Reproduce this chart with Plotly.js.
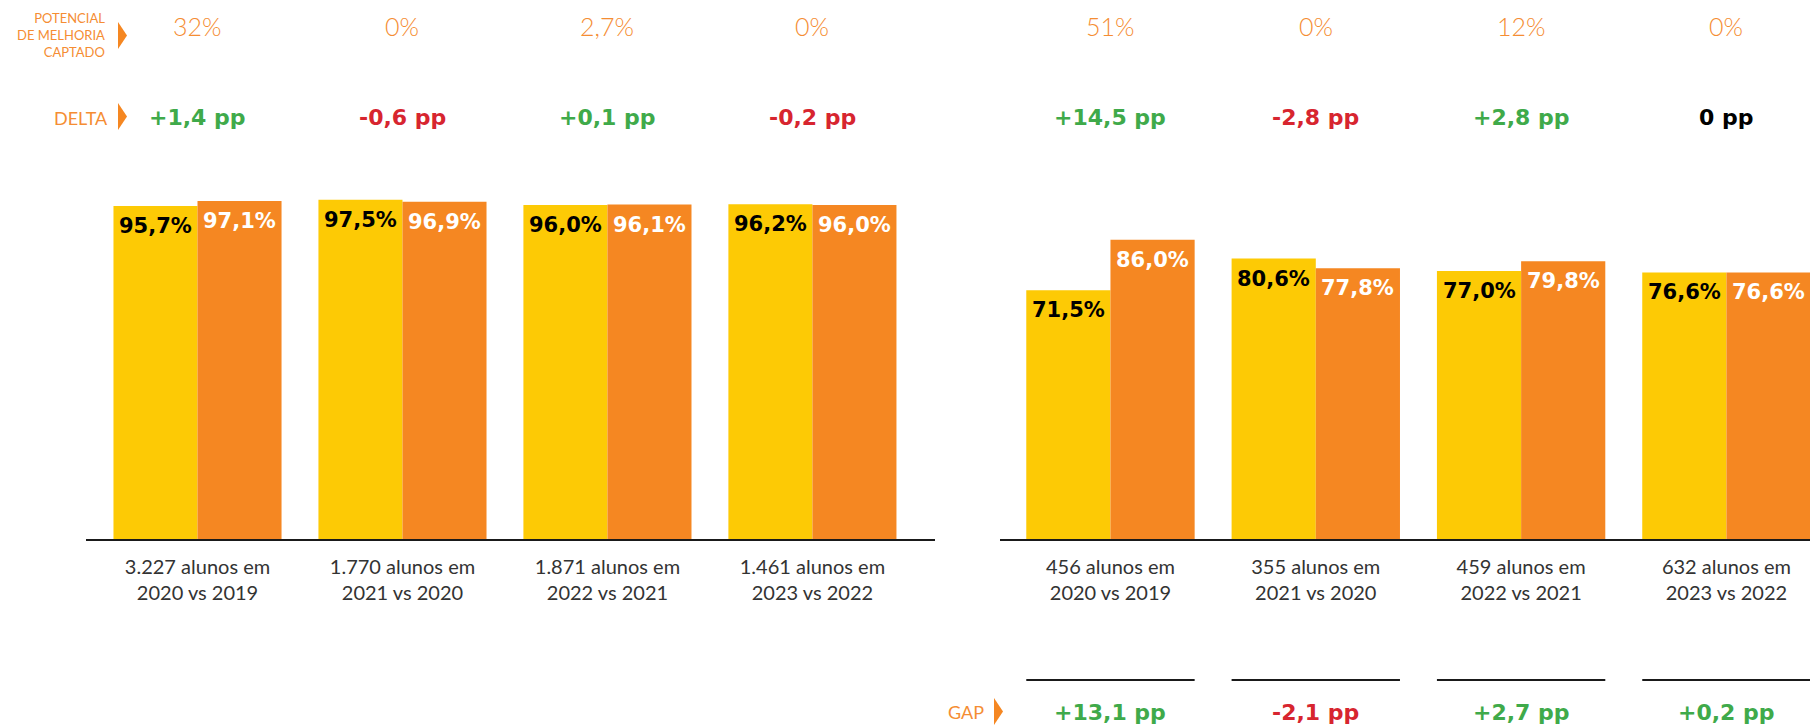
<!DOCTYPE html>
<html>
<head>
<meta charset="utf-8">
<script src="https://cdn.plot.ly/plotly-3.0.1.min.js"></script>
<style>
  html, body { margin: 0; padding: 0; background: #fff; }
  #plot { width: 1810px; height: 727px; }
</style>
</head>
<body>
<div id="plot"></div>
<script>
// categories
const leftCats = ['3.227 alunos em<br>2020 vs 2019', '1.770 alunos em<br>2021 vs 2020',
                  '1.871 alunos em<br>2022 vs 2021', '1.461 alunos em<br>2023 vs 2022'];
const rightCats = ['456 alunos em<br>2020 vs 2019', '355 alunos em<br>2021 vs 2020',
                   '459 alunos em<br>2022 vs 2021', '632 alunos em<br>2023 vs 2022'];

// series values (yellow = before, orange = after)
const leftBefore = [95.7, 97.5, 96.0, 96.2];
const leftAfter = [97.1, 96.9, 96.1, 96.0];
const rightBefore = [71.5, 80.6, 77.0, 76.6];
const rightAfter = [86.0, 77.8, 79.8, 76.6];

// rows of text above / below
const leftPotencial = ['32%', '0%', '2,7%', '0%'];
const rightPotencial = ['51%', '0%', '12%', '0%'];
const leftDelta = [1.4, -0.6, 0.1, -0.2];
const rightDelta = [14.5, -2.8, 2.8, 0];
const rightGap = [13.1, -2.1, 2.7, 0.2];

const W = 1810, H = 727;
const YELLOW = '#FDCA05';
const ORANGE = '#F58722';
const LABEL_ORANGE = '#F58D33';
const GREEN = '#3FAA4A';
const RED = '#D7252F';
const BOLD = 'DejaVu Sans, Liberation Sans, sans-serif';
const LIGHT = 'Lato, Roboto, sans-serif';
const BARGAP = 0.18;

const px = v => v / W;
const py = v => 1 - v / H;

function pct(v) {
    return v.toFixed(1).replace('.', ',') + '%';
}

function pp(v) {
    if (v === 0) return '0 pp';
    return (v > 0 ? '+' : '-') + Math.abs(v).toFixed(1).replace('.', ',') + ' pp';
}

function ppColor(v) {
    if (v > 0) return GREEN;
    if (v < 0) return RED;
    return '#000';
}

function barTrace(cats, vals, color, xa, ya) {
    return {
        type: 'bar',
        x: cats,
        y: vals,
        xaxis: xa,
        yaxis: ya,
        marker: { color: color, line: { width: 0 } },
        hoverinfo: 'skip'
    };
}

let data = [
    barTrace(leftCats, leftBefore, YELLOW, 'x', 'y'),
    barTrace(leftCats, leftAfter, ORANGE, 'x', 'y'),
    barTrace(rightCats, rightBefore, YELLOW, 'x2', 'y2'),
    barTrace(rightCats, rightAfter, ORANGE, 'x2', 'y2')
];

let annotations = [];
let shapes = [];

// value labels just under the top of each bar
const halfBar = (1 - BARGAP) / 4;
function barLabels(vals, side, color, xref, yref) {
    vals.forEach((v, i) => {
        annotations.push({
            xref: xref, yref: yref, x: i + side * halfBar, y: v, yshift: -20,
            text: pct(v), showarrow: false, xanchor: 'center', yanchor: 'middle',
            font: { family: BOLD, size: 21, color: color, weight: 700 }
        });
    });
}
barLabels(leftBefore, -1, '#000', 'x', 'y');
barLabels(leftAfter, 1, '#fff', 'x', 'y');
barLabels(rightBefore, -1, '#000', 'x2', 'y2');
barLabels(rightAfter, 1, '#fff', 'x2', 'y2');

function addRows(cats, potencial, delta, xref) {
    cats.forEach((c, i) => {
        annotations.push({
            xref: xref, yref: 'paper', x: c, y: py(26),
            text: potencial[i], showarrow: false, xanchor: 'center', yanchor: 'middle',
            font: { family: LIGHT, size: 25, color: LABEL_ORANGE, weight: 300 }
        });
        annotations.push({
            xref: xref, yref: 'paper', x: c, y: py(117.5),
            text: pp(delta[i]), showarrow: false, xanchor: 'center', yanchor: 'middle',
            font: { family: BOLD, size: 22, color: ppColor(delta[i]), weight: 700 }
        });
    });
}
addRows(leftCats, leftPotencial, leftDelta, 'x');
addRows(rightCats, rightPotencial, rightDelta, 'x2');

rightCats.forEach((c, i) => {
    annotations.push({
        xref: 'x2', yref: 'paper', x: c, y: py(712),
        text: pp(rightGap[i]), showarrow: false, xanchor: 'center', yanchor: 'middle',
        font: { family: BOLD, size: 22, color: ppColor(rightGap[i]), weight: 700 }
    });
    shapes.push({
        type: 'line', xref: 'x2', yref: 'paper',
        x0: i - 2 * halfBar, x1: i + 2 * halfBar, y0: py(680), y1: py(680),
        line: { color: '#1a1a1a', width: 2 }
    });
});

// row labels with small orange arrows
function rowLabel(text, xr, yc, size) {
    annotations.push({
        xref: 'paper', yref: 'paper', x: px(xr), y: py(yc),
        text: text, showarrow: false, xanchor: 'right', yanchor: 'middle', align: 'right',
        font: { family: LIGHT, size: size, color: LABEL_ORANGE }
    });
}
function arrow(x0, y0, y1) {
    shapes.push({
        type: 'path', xref: 'paper', yref: 'paper',
        path: 'M ' + px(x0) + ',' + py(y0) + ' L ' + px(x0 + 9) + ',' + py((y0 + y1) / 2) +
              ' L ' + px(x0) + ',' + py(y1) + ' Z',
        fillcolor: ORANGE, line: { width: 0 }
    });
}
rowLabel('POTENCIAL<br>DE MELHORIA<br>CAPTADO', 107, 35, 13);
rowLabel('DELTA', 110, 118, 18);
rowLabel('GAP', 986, 712, 18);
arrow(118, 22, 49);
arrow(118, 103, 130);
arrow(994, 698, 725);

const yTop = 539 / 3.48;
const axisCommon = {
    type: 'category',
    showline: true,
    linecolor: '#1a1a1a',
    linewidth: 2,
    ticks: '',
    showgrid: false,
    zeroline: false,
    tickfont: { family: LIGHT, size: 20, color: '#333' },
    ticklabelstandoff: 9,
    fixedrange: true
};

let layout = {
    width: W,
    height: H,
    margin: { l: 0, r: 0, t: 0, b: 0 },
    paper_bgcolor: '#fff',
    plot_bgcolor: '#fff',
    showlegend: false,
    hovermode: false,
    barmode: 'group',
    bargap: BARGAP,
    bargroupgap: 0,
    xaxis: Object.assign({}, axisCommon, { domain: [px(86), px(935)], range: [-0.544, 3.598], anchor: 'y' }),
    xaxis2: Object.assign({}, axisCommon, { domain: [px(1000), 1], range: [-0.538, 3.407], anchor: 'y2' }),
    yaxis: { domain: [188 / H, 1], range: [0, yTop], visible: false, fixedrange: true, anchor: 'x' },
    yaxis2: { domain: [188 / H, 1], range: [0, yTop], visible: false, fixedrange: true, anchor: 'x2' },
    annotations: annotations,
    shapes: shapes
};

Plotly.newPlot('plot', data, layout, { displayModeBar: false, staticPlot: true });
</script>
</body>
</html>
